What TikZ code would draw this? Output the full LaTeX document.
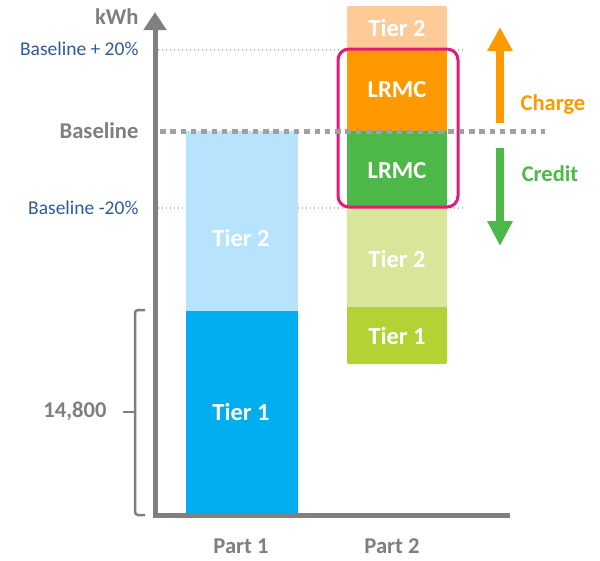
\documentclass[tikz,border=0pt]{standalone}
\usepackage{fontspec}
\setmainfont{Carlito}
\usetikzlibrary{arrows.meta}
\definecolor{axisgrey}{HTML}{808080}
\definecolor{labgrey}{HTML}{7F7F7F}
\definecolor{labblue}{HTML}{2E5A9A}
\definecolor{tOneBlue}{HTML}{00AEEF}
\definecolor{tTwoBlue}{HTML}{B7E3FC}
\definecolor{peach}{HTML}{FDCA98}
\definecolor{lrmcOrange}{HTML}{FF9900}
\definecolor{lrmcGreen}{HTML}{4DB848}
\definecolor{tTwoGreen}{HTML}{D9E69A}
\definecolor{tOneGreen}{HTML}{B3D334}
\definecolor{pinkbox}{HTML}{E6187A}
\tikzset{
  barlab/.style={text=white,font=\bfseries\fontsize{24.5}{28}\selectfont},
  greylab/.style={text=labgrey,font=\bfseries\fontsize{22.6}{26}\selectfont},
  bluelab/.style={text=labblue,font=\fontsize{19.5}{23}\selectfont},
  guide/.style={draw=gray!55,line width=1.4pt,dash pattern=on 1.4pt off 2.6pt},
}
\begin{document}
\begin{tikzpicture}[x=1pt,y=-1pt]
\useasboundingbox (0,0) rectangle (600,560);
% guide lines
\draw[guide] (158,50) -- (466,50);
\draw[guide] (158,208) -- (466,208);
% Part 1 bar
\fill[tTwoBlue] (186,131) rectangle (298,311);
\fill[tOneBlue] (186,311) rectangle (298,515);
\node[barlab] (p1t2) at (241,238) {Tier 2};
\node[barlab] (p1t1) at (241,412) {Tier 1};
% Part 2 bar
\fill[peach,rounded corners=2pt] (347,6) rectangle (447,52);
\fill[lrmcOrange] (347,50) rectangle (447,131);
\fill[lrmcGreen] (347,131) rectangle (447,208);
\fill[tTwoGreen] (347,208) rectangle (447,309);
\fill[tOneGreen,rounded corners=2pt] (347,307) rectangle (447,364);
\fill[tOneGreen] (347,307) rectangle (447,320);
\node[barlab] (p2t2a) at (397,28) {Tier 2};
\node[barlab] (lrmc1) at (397,90) {LRMC};
\node[barlab] (lrmc2) at (397,171) {LRMC};
\node[barlab] (p2t2) at (397,259) {Tier 2};
\node[barlab] (p2t1) at (397,336) {Tier 1};
% pink box
\draw[pinkbox,line width=3pt,rounded corners=11pt] (338,49) rectangle (458,207);
% baseline dashed
\draw[axisgrey!75,line width=5pt,dash pattern=on 5.5pt off 4.8pt] (160,131) -- (545,131);
% axes
\draw[axisgrey,line width=5pt,-{Triangle[width=22pt,length=18pt]}] (155,517.5) -- (155,12);
\draw[axisgrey,line width=5pt] (152.5,515) -- (510,515);
% charge / credit arrows
\draw[lrmcOrange,line width=8pt,-{Triangle[width=24pt,length=24pt]}] (500,123) -- (500,27);
\draw[lrmcGreen,line width=8pt,-{Triangle[width=24pt,length=25pt]}] (500,148) -- (500,246);
\node[text=lrmcOrange,font=\bfseries\fontsize{22.5}{26}\selectfont] (charge) at (553,105) {Charge};
\node[text=lrmcGreen,font=\bfseries\fontsize{22.5}{26}\selectfont] (credit) at (550,174) {Credit};
% axis labels
\node[greylab,anchor=east] (kwh) at (142,17) {kWh};
\node[bluelab,anchor=east] (bp) at (142,49) {Baseline + 20\%};
\node[greylab,anchor=east] (bl) at (142,131) {Baseline};
\node[bluelab,anchor=east] (bm) at (142,208) {Baseline -20\%};
% bracket
\draw[axisgrey,line width=2.5pt,rounded corners=3pt] (145,310) -- (135,310) -- (135,515) -- (145,515);
\coordinate (brk) at (135,412);
\coordinate (tick) at (123,412);
\draw[axisgrey,line width=2.5pt] (brk) -- (tick);
\node[greylab,anchor=east] (val) at (110,411) {14,800};
% part labels
\node[greylab] (part1) at (241,546) {Part 1};
\node[greylab] (part2) at (392,546) {Part 2};
\end{tikzpicture}
\end{document}
